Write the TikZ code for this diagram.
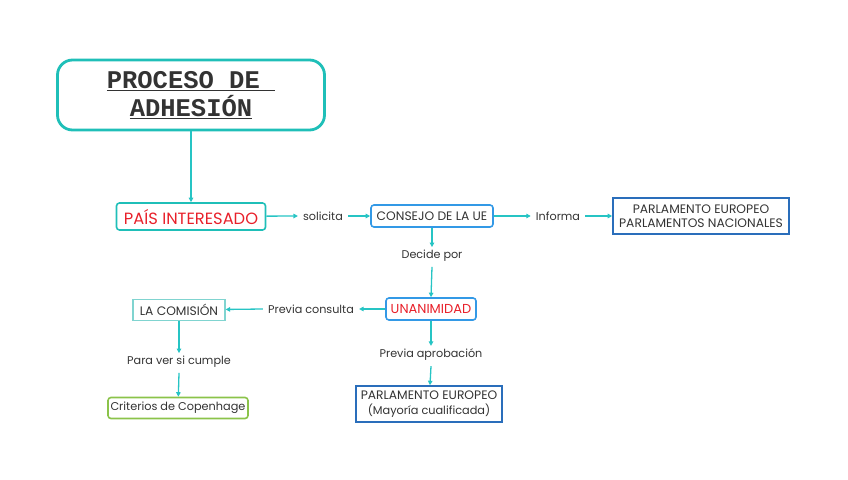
\documentclass[tikz,border=0pt]{standalone}
\usepackage{fontspec}
\setmainfont{Poppins}
\newfontfamily\titlefont{Liberation Mono}
\usepackage{tikz}
\usetikzlibrary{arrows.meta}
\definecolor{teal1}{HTML}{1FBFB8}
\definecolor{arrowc}{HTML}{26C4C4}
\definecolor{blue1}{HTML}{3399E6}
\definecolor{blue2}{HTML}{2A6EBB}
\definecolor{red1}{HTML}{E8202A}
\definecolor{green1}{HTML}{8BC34A}
\definecolor{comi}{HTML}{80D4D0}
\definecolor{txt}{HTML}{333333}
\tikzset{
  box/.style={draw,line width=1.6pt,text=txt,font=\fontsize{12.3}{14.5}\selectfont,align=center},
  lbl/.style={text=txt,font=\fontsize{11.2}{13}\selectfont,inner sep=1pt},
  arr/.style={draw=arrowc,line width=1.3pt,-{Triangle[length=4.5pt,width=4.5pt]}}
}
\begin{document}
\begin{tikzpicture}[x=1pt,y=-1pt]
        \useasboundingbox (0,0) rectangle (848,479);
        \node[box,draw=teal1,line width=2.8pt,rounded corners=15pt,minimum width=267pt,minimum height=70pt,font=\titlefont\bfseries\fontsize{25.5}{28}\selectfont] (T) at (191,95) {\underline{PROCESO DE\ }\\\underline{ADHESIÓN}};
        \node[box,draw=teal1,rounded corners=3pt,minimum width=149pt,minimum height=27pt,text=red1,font=\fontsize{16.3}{18}\selectfont] (P) at (191,216.5) {PAÍS INTERESADO};
        \node[lbl] (s) at (323,216) {solicita};
        \node[box,draw=blue1,rounded corners=3pt,minimum width=122pt,minimum height=22pt] (C) at (432,216) {CONSEJO DE LA UE};
        \node[lbl] (i) at (558,216) {Informa};
        \node[box,draw=blue2,minimum width=176pt,minimum height=36pt,inner sep=2pt] (PE) at (701,216) {PARLAMENTO EUROPEO\\PARLAMENTOS NACIONALES};
        \node[lbl] (d) at (432,256) {Decide por};
        \node[box,draw=blue1,rounded corners=3pt,minimum width=90pt,minimum height=22pt,text=red1,font=\fontsize{13}{15}\selectfont] (U) at (431,309) {UNANIMIDAD};
        \node[lbl] (pc) at (311,309) {Previa consulta};
        \node[box,draw=comi,line width=1.2pt,minimum width=92pt,minimum height=21pt] (L) at (179,310) {LA COMISIÓN};
        \node[lbl] (v) at (179,362) {Para ver si cumple};
        \node[box,draw=green1,rounded corners=3pt,minimum width=140pt,minimum height=21pt,inner sep=2pt,font=\fontsize{11.3}{13}\selectfont] (K) at (178,408) {Criterios de Copenhage};
        \node[lbl] (pa) at (431,355) {Previa aprobación};
        \node[box,draw=blue2,minimum width=146pt,minimum height=36pt,inner sep=2pt] (PM) at (429,404) {PARLAMENTO EUROPEO\\{\fontsize{11.3}{13}\selectfont(Mayoría cualificada)}};

        \draw[arr] (T) -- (P);
        \draw[arr] (P) -- ([xshift=-4pt]s.west);
        \draw[arr] ([xshift=4pt]s.east) -- (C);
        \draw[arr] (C) -- ([xshift=-4pt]i.west);
        \draw[arr] ([xshift=4pt]i.east) -- (PE);
        \draw[arr] (C.south) -- ([yshift=2pt]d.north);
        \draw[arr] ([yshift=-4pt]d.south) -- (U.north);
        \draw[arr] (U) -- ([xshift=4pt]pc.east);
        \draw[arr] ([xshift=-4pt]pc.west) -- (L);
        \draw[arr] (L) -- ([yshift=2pt]v.north);
        \draw[arr] ([yshift=-4pt]v.south) -- (K);
        \draw[arr] (U) -- ([yshift=2pt]pa.north);
        \draw[arr] ([yshift=-4pt]pa.south) -- (PM);
      \end{tikzpicture}
\end{document}
